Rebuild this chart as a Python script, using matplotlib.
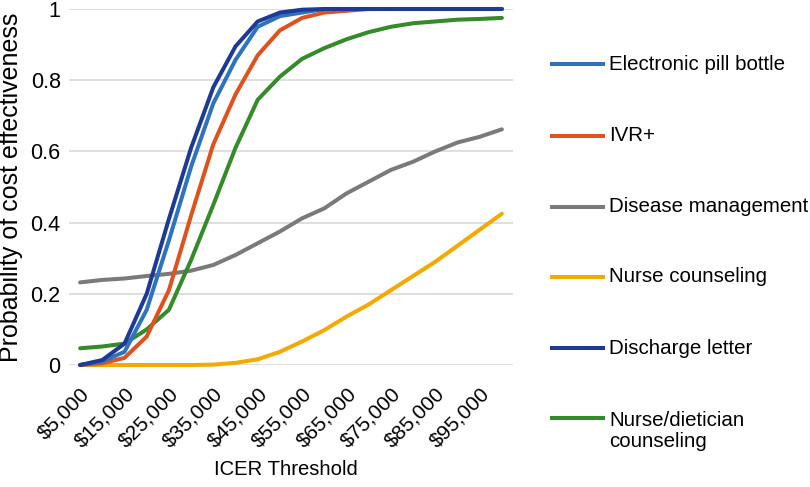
import matplotlib
matplotlib.use("Agg")
import matplotlib.pyplot as plt
from matplotlib.lines import Line2D
import numpy as np

plt.rcParams['font.family'] = ['Liberation Sans', 'DejaVu Sans']

thresholds = [5000, 10000, 15000, 20000, 25000, 30000, 35000, 40000, 45000, 50000,
              55000, 60000, 65000, 70000, 75000, 80000, 85000, 90000, 95000, 100000]

electronic_pill_bottle = [0.0, 0.01, 0.037, 0.155, 0.35, 0.557, 0.735, 0.857, 0.95, 0.98,
                          0.99, 1.0, 1.0, 1.0, 1.0, 1.0, 1.0, 1.0, 1.0, 1.0]
ivr_plus = [0.0, 0.005, 0.02, 0.08, 0.21, 0.42, 0.62, 0.76, 0.87, 0.94,
            0.975, 0.99, 0.995, 1.0, 1.0, 1.0, 1.0, 1.0, 1.0, 1.0]
disease_management = [0.232, 0.239, 0.243, 0.25, 0.256, 0.265, 0.281, 0.309, 0.342, 0.375,
                      0.412, 0.44, 0.482, 0.515, 0.548, 0.571, 0.6, 0.625, 0.641, 0.662]
nurse_counseling = [0.0, 0.0, 0.0, 0.0, 0.0, 0.0, 0.001, 0.006, 0.016, 0.037,
                    0.066, 0.098, 0.136, 0.17, 0.21, 0.25, 0.29, 0.335, 0.38, 0.425]
discharge_letter = [0.0, 0.014, 0.06, 0.2, 0.41, 0.61, 0.78, 0.895, 0.965, 0.99,
                    0.998, 1.0, 1.0, 1.0, 1.0, 1.0, 1.0, 1.0, 1.0, 1.0]
nurse_dietician = [0.047, 0.052, 0.06, 0.1, 0.155, 0.295, 0.45, 0.61, 0.745, 0.81,
                   0.86, 0.89, 0.915, 0.935, 0.95, 0.96, 0.965, 0.97, 0.972, 0.975]

series_names = ["Electronic pill bottle", "IVR+", "Disease management",
                "Nurse counseling", "Discharge letter", "Nurse/dietician\ncounseling"]
series_values = [electronic_pill_bottle, ivr_plus, disease_management,
                 nurse_counseling, discharge_letter, nurse_dietician]
colors = ["#2f73bd", "#dd5320", "#7a7a7a", "#f2a900", "#1f3a95", "#358a2a"]

tick_labels = ["$" + format(t, ",") for t in thresholds]

fig = plt.figure(figsize=(8.1, 4.87), dpi=100)
ax = fig.add_axes([69/810, 1 - 365/487, (513-69)/810, (365-9)/487])

x = np.arange(len(thresholds))
order = [2, 3, 5, 1, 0, 4]
for i in order:
    ax.plot(x, series_values[i], color=colors[i], lw=2.9, solid_capstyle='round',
            solid_joinstyle='round', clip_on=False, zorder=3)

ax.set_xlim(-0.5, len(thresholds) - 0.5)
ax.set_ylim(0, 1)
ax.set_yticks([0, 0.2, 0.4, 0.6, 0.8, 1.0])
ax.set_yticklabels(["0", "0.2", "0.4", "0.6", "0.8", "1"], fontsize=15.5)
ax.set_xticks(x[::2])
ax.set_xticklabels(tick_labels[::2], rotation=45, ha='right', va='top',
                   rotation_mode='anchor', fontsize=15)
ax.tick_params(axis='y', length=0, pad=6)
ax.tick_params(axis='x', length=0, pad=14)
ax.grid(axis='y', color='#d9d9d9', lw=1.2)
ax.set_axisbelow(True)
for s in ax.spines.values():
    s.set_visible(False)

ax.set_ylabel("Probability of cost effectiveness", fontsize=18)
ax.yaxis.set_label_coords((23 - 69) / 444, 0.5)
ax.set_xlabel("ICER Threshold", fontsize=14.6)
ax.xaxis.set_label_coords((286 - 69) / 444, (365 - 460) / 356)

legend_y = [64, 136, 207, 277, 348, 418]
for i, name in enumerate(series_names):
    yf = 1 - legend_y[i] / 487
    fig.add_artist(Line2D([552/810, 603/810], [yf, yf], color=colors[i], lw=2.9,
                          transform=fig.transFigure))
    if "\n" in name:
        fig.text(609/810, 1 - 431/487, name, fontsize=14.8, va='center', ha='left',
                 linespacing=1.15)
    else:
        fig.text(609/810, yf, name, fontsize=14.8, va='center', ha='left')

fig.savefig("out.png", dpi=100)
